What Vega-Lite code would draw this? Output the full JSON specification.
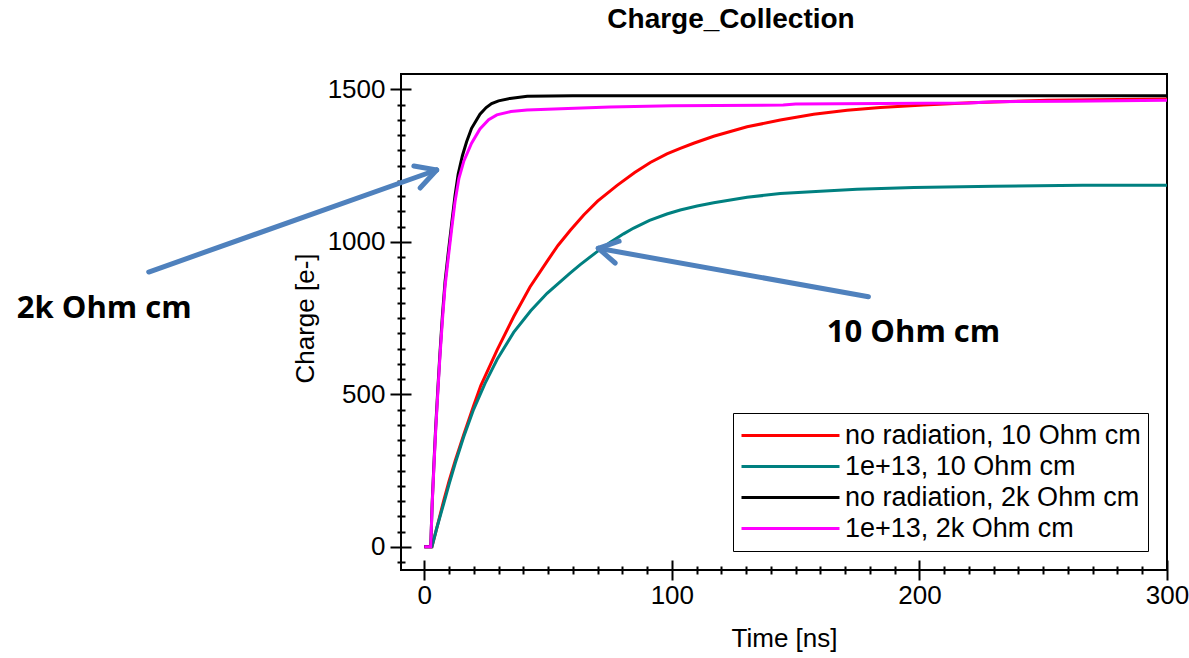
{
  "$schema": "https://vega.github.io/schema/vega-lite/v6.json",
  "autosize": "none",
  "padding": {"left": 401, "top": 74, "right": 22, "bottom": 88},
  "width": 766,
  "height": 496,
  "background": "white",
  "config": {
    "font": "Liberation Sans",
    "view": {"stroke": "black", "strokeWidth": 2},
    "axis": {"labelColor": "black", "tickColor": "black", "titleColor": "black", "grid": false, "domain": false, "labelFlush": false, "labelOverlap": false, "tickWidth": 2}
  },
  "title": {
    "text": "Charge_Collection",
    "font": "Liberation Sans",
    "fontSize": 28,
    "fontWeight": "bold",
    "color": "black",
    "anchor": "middle",
    "frame": "group",
    "dx": -53,
    "baseline": "alphabetic",
    "offset": 18
  },
  "datasets": {
    "curves": [
      {"series": "no radiation, 10 Ohm cm", "t": 0, "q": 0},
      {"series": "no radiation, 10 Ohm cm", "t": 3.1, "q": 0},
      {"series": "no radiation, 10 Ohm cm", "t": 5, "q": 60},
      {"series": "no radiation, 10 Ohm cm", "t": 7.8, "q": 150},
      {"series": "no radiation, 10 Ohm cm", "t": 10, "q": 215},
      {"series": "no radiation, 10 Ohm cm", "t": 12.5, "q": 282},
      {"series": "no radiation, 10 Ohm cm", "t": 15.9, "q": 367},
      {"series": "no radiation, 10 Ohm cm", "t": 19.9, "q": 462},
      {"series": "no radiation, 10 Ohm cm", "t": 22.8, "q": 528},
      {"series": "no radiation, 10 Ohm cm", "t": 29.4, "q": 645},
      {"series": "no radiation, 10 Ohm cm", "t": 36.1, "q": 754},
      {"series": "no radiation, 10 Ohm cm", "t": 42.7, "q": 852},
      {"series": "no radiation, 10 Ohm cm", "t": 49.6, "q": 936},
      {"series": "no radiation, 10 Ohm cm", "t": 54, "q": 988},
      {"series": "no radiation, 10 Ohm cm", "t": 59, "q": 1038},
      {"series": "no radiation, 10 Ohm cm", "t": 64.4, "q": 1088},
      {"series": "no radiation, 10 Ohm cm", "t": 70, "q": 1133},
      {"series": "no radiation, 10 Ohm cm", "t": 77.9, "q": 1185},
      {"series": "no radiation, 10 Ohm cm", "t": 85, "q": 1227},
      {"series": "no radiation, 10 Ohm cm", "t": 91.3, "q": 1260},
      {"series": "no radiation, 10 Ohm cm", "t": 98, "q": 1288},
      {"series": "no radiation, 10 Ohm cm", "t": 103.4, "q": 1306},
      {"series": "no radiation, 10 Ohm cm", "t": 108.8, "q": 1323},
      {"series": "no radiation, 10 Ohm cm", "t": 116.9, "q": 1346},
      {"series": "no radiation, 10 Ohm cm", "t": 130.4, "q": 1377},
      {"series": "no radiation, 10 Ohm cm", "t": 143.8, "q": 1399},
      {"series": "no radiation, 10 Ohm cm", "t": 157.3, "q": 1418},
      {"series": "no radiation, 10 Ohm cm", "t": 170.8, "q": 1431},
      {"series": "no radiation, 10 Ohm cm", "t": 184.2, "q": 1440},
      {"series": "no radiation, 10 Ohm cm", "t": 201.7, "q": 1448},
      {"series": "no radiation, 10 Ohm cm", "t": 220.6, "q": 1456},
      {"series": "no radiation, 10 Ohm cm", "t": 251.6, "q": 1464},
      {"series": "no radiation, 10 Ohm cm", "t": 300, "q": 1468},
      {"series": "1e+13, 10 Ohm cm", "t": 0, "q": 0},
      {"series": "1e+13, 10 Ohm cm", "t": 3.1, "q": 0},
      {"series": "1e+13, 10 Ohm cm", "t": 5, "q": 60},
      {"series": "1e+13, 10 Ohm cm", "t": 7.8, "q": 140},
      {"series": "1e+13, 10 Ohm cm", "t": 10, "q": 205},
      {"series": "1e+13, 10 Ohm cm", "t": 12.5, "q": 274},
      {"series": "1e+13, 10 Ohm cm", "t": 15.9, "q": 360},
      {"series": "1e+13, 10 Ohm cm", "t": 19.9, "q": 450},
      {"series": "1e+13, 10 Ohm cm", "t": 24.5, "q": 535},
      {"series": "1e+13, 10 Ohm cm", "t": 29.4, "q": 614},
      {"series": "1e+13, 10 Ohm cm", "t": 36.1, "q": 703},
      {"series": "1e+13, 10 Ohm cm", "t": 43, "q": 774},
      {"series": "1e+13, 10 Ohm cm", "t": 49.6, "q": 831},
      {"series": "1e+13, 10 Ohm cm", "t": 58.9, "q": 897},
      {"series": "1e+13, 10 Ohm cm", "t": 63, "q": 925},
      {"series": "1e+13, 10 Ohm cm", "t": 69.7, "q": 967},
      {"series": "1e+13, 10 Ohm cm", "t": 75, "q": 998},
      {"series": "1e+13, 10 Ohm cm", "t": 80.5, "q": 1026},
      {"series": "1e+13, 10 Ohm cm", "t": 84.6, "q": 1045},
      {"series": "1e+13, 10 Ohm cm", "t": 91, "q": 1070},
      {"series": "1e+13, 10 Ohm cm", "t": 98, "q": 1091},
      {"series": "1e+13, 10 Ohm cm", "t": 103.4, "q": 1104},
      {"series": "1e+13, 10 Ohm cm", "t": 110.2, "q": 1117},
      {"series": "1e+13, 10 Ohm cm", "t": 116.9, "q": 1128},
      {"series": "1e+13, 10 Ohm cm", "t": 130.4, "q": 1146},
      {"series": "1e+13, 10 Ohm cm", "t": 143.8, "q": 1158},
      {"series": "1e+13, 10 Ohm cm", "t": 160, "q": 1166},
      {"series": "1e+13, 10 Ohm cm", "t": 174.8, "q": 1172},
      {"series": "1e+13, 10 Ohm cm", "t": 197.7, "q": 1178},
      {"series": "1e+13, 10 Ohm cm", "t": 230, "q": 1182},
      {"series": "1e+13, 10 Ohm cm", "t": 266, "q": 1185},
      {"series": "1e+13, 10 Ohm cm", "t": 300, "q": 1185},
      {"series": "no radiation, 2k Ohm cm", "t": 0, "q": 0},
      {"series": "no radiation, 2k Ohm cm", "t": 2.6, "q": 0},
      {"series": "no radiation, 2k Ohm cm", "t": 3.2, "q": 145},
      {"series": "no radiation, 2k Ohm cm", "t": 4, "q": 290},
      {"series": "no radiation, 2k Ohm cm", "t": 4.6, "q": 390},
      {"series": "no radiation, 2k Ohm cm", "t": 5.5, "q": 520},
      {"series": "no radiation, 2k Ohm cm", "t": 6.3, "q": 630},
      {"series": "no radiation, 2k Ohm cm", "t": 7.3, "q": 755},
      {"series": "no radiation, 2k Ohm cm", "t": 8.4, "q": 870},
      {"series": "no radiation, 2k Ohm cm", "t": 9.7, "q": 965},
      {"series": "no radiation, 2k Ohm cm", "t": 11.1, "q": 1062},
      {"series": "no radiation, 2k Ohm cm", "t": 12.4, "q": 1150},
      {"series": "no radiation, 2k Ohm cm", "t": 13.7, "q": 1222},
      {"series": "no radiation, 2k Ohm cm", "t": 15.4, "q": 1282},
      {"series": "no radiation, 2k Ohm cm", "t": 17.1, "q": 1328},
      {"series": "no radiation, 2k Ohm cm", "t": 19.1, "q": 1372},
      {"series": "no radiation, 2k Ohm cm", "t": 22.5, "q": 1418},
      {"series": "no radiation, 2k Ohm cm", "t": 25, "q": 1440},
      {"series": "no radiation, 2k Ohm cm", "t": 27.2, "q": 1453},
      {"series": "no radiation, 2k Ohm cm", "t": 30, "q": 1462},
      {"series": "no radiation, 2k Ohm cm", "t": 34.6, "q": 1470},
      {"series": "no radiation, 2k Ohm cm", "t": 41.6, "q": 1477},
      {"series": "no radiation, 2k Ohm cm", "t": 60, "q": 1479},
      {"series": "no radiation, 2k Ohm cm", "t": 300, "q": 1479},
      {"series": "1e+13, 2k Ohm cm", "t": 0, "q": 0},
      {"series": "1e+13, 2k Ohm cm", "t": 2.6, "q": 0},
      {"series": "1e+13, 2k Ohm cm", "t": 3.2, "q": 140},
      {"series": "1e+13, 2k Ohm cm", "t": 4, "q": 280},
      {"series": "1e+13, 2k Ohm cm", "t": 4.6, "q": 380},
      {"series": "1e+13, 2k Ohm cm", "t": 5.5, "q": 510},
      {"series": "1e+13, 2k Ohm cm", "t": 6.3, "q": 620},
      {"series": "1e+13, 2k Ohm cm", "t": 7.3, "q": 740},
      {"series": "1e+13, 2k Ohm cm", "t": 8.4, "q": 855},
      {"series": "1e+13, 2k Ohm cm", "t": 9.7, "q": 948},
      {"series": "1e+13, 2k Ohm cm", "t": 11.1, "q": 1045},
      {"series": "1e+13, 2k Ohm cm", "t": 12.4, "q": 1130},
      {"series": "1e+13, 2k Ohm cm", "t": 14, "q": 1208},
      {"series": "1e+13, 2k Ohm cm", "t": 16, "q": 1265},
      {"series": "1e+13, 2k Ohm cm", "t": 19.1, "q": 1323},
      {"series": "1e+13, 2k Ohm cm", "t": 22.5, "q": 1370},
      {"series": "1e+13, 2k Ohm cm", "t": 26, "q": 1400},
      {"series": "1e+13, 2k Ohm cm", "t": 29.3, "q": 1416},
      {"series": "1e+13, 2k Ohm cm", "t": 35, "q": 1427},
      {"series": "1e+13, 2k Ohm cm", "t": 41.5, "q": 1432},
      {"series": "1e+13, 2k Ohm cm", "t": 58, "q": 1437},
      {"series": "1e+13, 2k Ohm cm", "t": 75, "q": 1442},
      {"series": "1e+13, 2k Ohm cm", "t": 100, "q": 1446},
      {"series": "1e+13, 2k Ohm cm", "t": 145, "q": 1448},
      {"series": "1e+13, 2k Ohm cm", "t": 150, "q": 1452},
      {"series": "1e+13, 2k Ohm cm", "t": 220, "q": 1455},
      {"series": "1e+13, 2k Ohm cm", "t": 230, "q": 1459},
      {"series": "1e+13, 2k Ohm cm", "t": 260, "q": 1461},
      {"series": "1e+13, 2k Ohm cm", "t": 300, "q": 1464}
    ],
    "arrows": [
      {"arrow": "2k", "x": -111.3, "y": 900.8, "x2": 5.0, "y2": 1235.3},
      {"arrow": "2k", "x": 5.0, "y": 1235.3, "x2": -4.2, "y2": 1248.5},
      {"arrow": "2k", "x": 5.0, "y": 1235.3, "x2": -1.7, "y2": 1176.3},
      {"arrow": "10", "x": 179.4, "y": 819.9, "x2": 70.3, "y2": 978.6},
      {"arrow": "10", "x": 70.3, "y": 978.6, "x2": 78.7, "y2": 1001.9},
      {"arrow": "10", "x": 70.3, "y": 978.6, "x2": 77.1, "y2": 930.4}
    ],
    "notes": [
      {"label": "2k Ohm cm", "x": -164.6, "y": 749},
      {"label": "10 Ohm cm", "x": 162.6, "y": 672}
    ]
  },
  "layer": [
    {
      "data": {"name": "curves"},
      "mark": {"type": "line", "strokeWidth": 3, "clip": true},
      "encoding": {
        "x": {
          "field": "t", "type": "quantitative",
          "scale": {"domain": [-9.4, 300], "nice": false, "zero": false},
          "axis": {
            "orient": "bottom", "values": [0, 100, 200, 300], "offset": -10, "tickSize": 20,
            "labelFontSize": 26, "labelPadding": 2, "format": "d", "title": "Time [ns]", "titleFontSize": 26,
            "titleFontWeight": "normal", "titleBaseline": "alphabetic", "titleY": 86
          }
        },
        "y": {
          "field": "q", "type": "quantitative",
          "scale": {"domain": [-76, 1550], "nice": false, "zero": false},
          "axis": {
            "orient": "left", "values": [0, 500, 1000, 1500], "offset": -10, "tickSize": 21,
            "labelFontSize": 26, "labelPadding": 5, "format": "d", "title": "Charge [e-]", "titleFontSize": 26,
            "titleFontWeight": "normal", "titleAngle": -90, "titleBaseline": "alphabetic",
            "titleAlign": "center", "titleX": -98, "titleY": 244
          }
        },
        "color": {
          "field": "series", "type": "nominal",
          "scale": {
            "domain": ["no radiation, 10 Ohm cm", "1e+13, 10 Ohm cm", "no radiation, 2k Ohm cm", "1e+13, 2k Ohm cm"],
            "range": ["#ff0000", "#008080", "#000000", "#ff00ff"]
          },
          "legend": {
            "title": null, "orient": "bottom-right", "offset": 19,
            "symbolType": "stroke", "symbolSize": 9604, "symbolStrokeWidth": 3,
            "clipHeight": 31, "rowPadding": 0, "labelFontSize": 27, "labelOffset": 4,
            "labelColor": "black", "padding": 7, "strokeColor": "black",
            "fillColor": "white", "labelLimit": 400
          }
        },
        "order": {"field": "t", "type": "quantitative"}
      }
    },
    {
      "data": {"name": "arrows"},
      "mark": {"type": "rule", "color": "#4F81BD", "strokeWidth": 5, "strokeCap": "round"},
      "encoding": {
        "x": {
          "field": "x", "type": "quantitative",
          "scale": {"domain": [-9.4, 300], "nice": false, "zero": false},
          "axis": {
            "orient": "bottom", "values": [10, 20, 30, 40, 50, 60, 70, 80, 90, 110, 120, 130, 140, 150, 160, 170, 180, 190, 210, 220, 230, 240, 250, 260, 270, 280, 290],
            "offset": -4, "tickSize": 8, "labels": false, "title": null
          }
        },
        "x2": {"field": "x2"},
        "y": {
          "field": "y", "type": "quantitative",
          "scale": {"domain": [-76, 1550], "nice": false, "zero": false},
          "axis": {
            "orient": "left", "values": [-50, 50, 100, 150, 200, 250, 300, 350, 400, 450, 550, 600, 650, 700, 750, 800, 850, 900, 950, 1050, 1100, 1150, 1200, 1250, 1300, 1350, 1400, 1450],
            "offset": -4, "tickSize": 8, "labels": false, "title": null
          }
        },
        "y2": {"field": "y2"}
      }
    },
    {
      "data": {"name": "notes"},
      "mark": {"type": "text", "font": "Open Sans", "fontWeight": "bold", "fontSize": 31, "align": "left", "baseline": "alphabetic", "color": "black"},
      "encoding": {
        "x": {"field": "x", "type": "quantitative", "scale": {"domain": [-9.4, 300], "nice": false, "zero": false}, "axis": null},
        "y": {"field": "y", "type": "quantitative", "scale": {"domain": [-76, 1550], "nice": false, "zero": false}, "axis": null},
        "text": {"field": "label"}
      }
    }
  ],
  "resolve": {"axis": {"x": "independent", "y": "independent"}}
}
